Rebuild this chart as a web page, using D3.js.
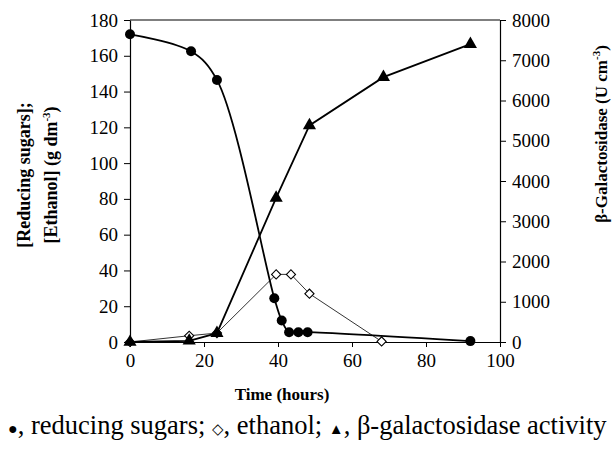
<!DOCTYPE html>
<html>
<head>
<meta charset="utf-8">
<script src="https://cdn.jsdelivr.net/npm/d3@7"></script>
<style>
  body { margin: 0; background: #fff; }
  svg text { font-family: "Liberation Serif", "Times New Roman", Times, "DejaVu Serif", serif; fill: #000; }
</style>
</head>
<body>
<svg id="chart"></svg>
<script>
// time points (hours) and values
const sugarTime = [0, 16.5, 23.5, 39, 41, 43, 45.5, 48, 92];
const sugarValues = [172, 162.5, 146.5, 24.5, 12, 5.5, 5.5, 5.5, 0.5];

const ethanolTime = [0, 16, 23.5, 39.5, 43.5, 48.5, 68];
const ethanolValues = [0, 3.5, 5, 37.8, 37.8, 27, 0.3];

const galTime = [0, 16, 23.5, 39.5, 48.5, 68.5, 92];
const galValues = [0, 30, 220, 3580, 5380, 6580, 7400];

const xTicks = [0, 20, 40, 60, 80, 100];
const leftTicks = [0, 20, 40, 60, 80, 100, 120, 140, 160, 180];
const rightTicks = [0, 1000, 2000, 3000, 4000, 5000, 6000, 7000, 8000];

const config = {
  width: 613,
  height: 452,
  margin: { top: 20, left: 130, right: 113, bottom: 110 }
};

const serif = "'Liberation Serif', 'Times New Roman', Times, 'DejaVu Serif', serif";

const svg = d3.select("#chart")
  .attr("width", config.width)
  .attr("height", config.height)
  .attr("font-family", serif);

const innerW = config.width - config.margin.left - config.margin.right;
const innerH = config.height - config.margin.top - config.margin.bottom;

const xScale = d3.scaleLinear().domain([0, 100]).range([0, innerW]);
const yLeft = d3.scaleLinear().domain([0, 180]).range([innerH, 0]);
const yRight = d3.scaleLinear().domain([0, 8000]).range([innerH, 0]);

const chart = svg.append("g")
  .attr("transform", `translate(${config.margin.left},${config.margin.top})`);

// axes
const fmt = d3.format("d");
const xAxis = d3.axisBottom(xScale).tickValues(xTicks).tickFormat(fmt).tickSize(5).tickSizeOuter(0).tickPadding(7);
const leftAxis = d3.axisLeft(yLeft).tickValues(leftTicks).tickFormat(fmt).tickSize(6).tickSizeOuter(0).tickPadding(6);
const rightAxis = d3.axisRight(yRight).tickValues(rightTicks).tickFormat(fmt).tickSize(6).tickSizeOuter(0).tickPadding(6);

function styleAxis(g) {
  g.attr("font-family", serif).attr("font-size", 19);
  g.select(".domain").attr("stroke", "#000").attr("stroke-width", 1.2);
  g.selectAll(".tick line").attr("stroke", "#000");
  g.selectAll(".tick text").attr("fill", "#000");
}

chart.append("g").attr("transform", `translate(0,${innerH})`).call(xAxis).call(styleAxis);
chart.append("g").call(leftAxis).call(styleAxis);
chart.append("g").attr("transform", `translate(${innerW},0)`).call(rightAxis).call(styleAxis);

// top frame line
chart.append("line")
  .attr("x1", 0).attr("x2", innerW)
  .attr("y1", 0).attr("y2", 0)
  .attr("stroke", "#000").attr("stroke-width", 1.2);

const sugar = sugarTime.map((t, i) => ({ t, v: sugarValues[i] }));
const ethanol = ethanolTime.map((t, i) => ({ t, v: ethanolValues[i] }));
const gal = galTime.map((t, i) => ({ t, v: galValues[i] }));

// ethanol: thin line, open diamonds
chart.append("path")
  .datum(ethanol)
  .attr("fill", "none")
  .attr("stroke", "#000")
  .attr("stroke-width", 0.8)
  .attr("d", d3.line().x(d => xScale(d.t)).y(d => yLeft(d.v)));

// reducing sugars: smoothed line, filled circles
chart.append("path")
  .datum(sugar)
  .attr("fill", "none")
  .attr("stroke", "#000")
  .attr("stroke-width", 1.8)
  .attr("d", d3.line().curve(d3.curveCatmullRom.alpha(0.5)).x(d => xScale(d.t)).y(d => yLeft(d.v)));

// galactosidase: line, filled triangles
chart.append("path")
  .datum(gal)
  .attr("fill", "none")
  .attr("stroke", "#000")
  .attr("stroke-width", 1.8)
  .attr("d", d3.line().x(d => xScale(d.t)).y(d => yRight(d.v)));

chart.selectAll(".ethanol-pt")
  .data(ethanol)
  .join("path")
  .attr("class", "ethanol-pt")
  .attr("transform", d => `translate(${xScale(d.t)},${yLeft(d.v)}) rotate(45)`)
  .attr("d", d3.symbol(d3.symbolSquare, 42))
  .attr("fill", "#fff")
  .attr("stroke", "#000")
  .attr("stroke-width", 1.1);

chart.selectAll(".sugar-pt")
  .data(sugar)
  .join("circle")
  .attr("class", "sugar-pt")
  .attr("cx", d => xScale(d.t))
  .attr("cy", d => yLeft(d.v))
  .attr("r", 5)
  .attr("fill", "#000");

chart.selectAll(".gal-pt")
  .data(gal)
  .join("path")
  .attr("class", "gal-pt")
  .attr("transform", d => `translate(${xScale(d.t)},${yRight(d.v)})`)
  .attr("d", d3.symbol(d3.symbolTriangle, 75))
  .attr("fill", "#000");

// axis titles
svg.append("text")
  .attr("x", 282)
  .attr("y", 400)
  .attr("text-anchor", "middle")
  .attr("font-size", 17)
  .attr("font-weight", "bold")
  .text("Time (hours)");

const leftTitle = svg.append("g")
  .attr("transform", "translate(0,175) rotate(-90)");
leftTitle.append("text")
  .attr("x", 0).attr("y", 30)
  .attr("text-anchor", "middle")
  .attr("font-size", 18)
  .attr("font-weight", "bold")
  .text("[Reducing sugars];");
const l2 = leftTitle.append("text")
  .attr("x", 0).attr("y", 57)
  .attr("text-anchor", "middle")
  .attr("font-size", 18)
  .attr("font-weight", "bold");
l2.append("tspan").text("[Ethanol] (g dm");
l2.append("tspan").attr("dy", -7).attr("font-size", 11).text("-3");
l2.append("tspan").attr("dy", 7).text(")");

const rightTitle = svg.append("text")
  .attr("transform", "translate(607,134) rotate(-90)")
  .attr("text-anchor", "middle")
  .attr("font-size", 17)
  .attr("font-weight", "bold");
rightTitle.append("tspan").text("β-Galactosidase (U cm");
rightTitle.append("tspan").attr("dy", -7).attr("font-size", 11).text("-3");
rightTitle.append("tspan").attr("dy", 7).text(")");

// caption
const caption = svg.append("text")
  .attr("x", 8)
  .attr("y", 434)
  .attr("font-size", 26.5);
caption.append("tspan").attr("font-size", 16).text("●");
caption.append("tspan").text(", reducing sugars; ");
caption.append("tspan").attr("font-size", 15).text("◇");
caption.append("tspan").text(", ethanol; ");
caption.append("tspan").attr("font-size", 15).text("▲");
caption.append("tspan").text(", β-galactosidase activity");
</script>
</body>
</html>
